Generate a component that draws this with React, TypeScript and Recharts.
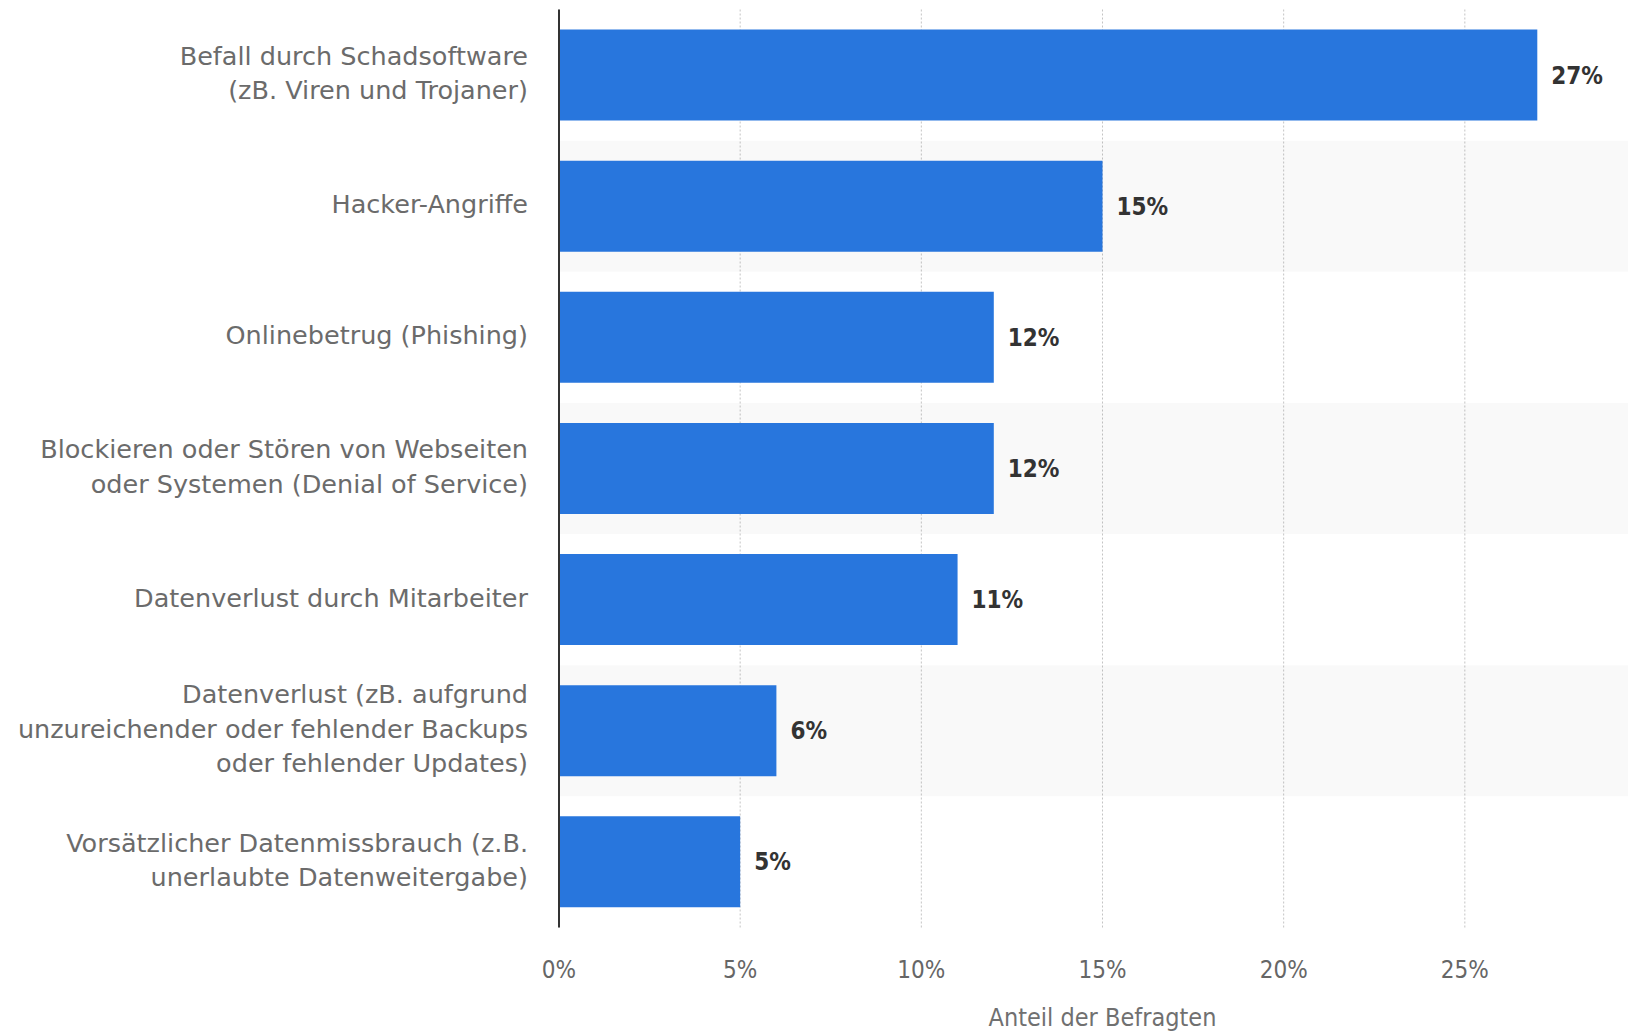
import React from "react";
import {
  BarChart,
  Bar,
  XAxis,
  YAxis,
  CartesianGrid,
  ReferenceArea,
  LabelList,
  Label,
} from "recharts";

const categories: string[] = [
  "Befall durch Schadsoftware\n(zB. Viren und Trojaner)",
  "Hacker-Angriffe",
  "Onlinebetrug (Phishing)",
  "Blockieren oder Stören von Webseiten\noder Systemen (Denial of Service)",
  "Datenverlust durch Mitarbeiter",
  "Datenverlust (zB. aufgrund\nunzureichender oder fehlender Backups\noder fehlender Updates)",
  "Vorsätzlicher Datenmissbrauch (z.B.\nunerlaubte Datenweitergabe)",
];
const values: number[] = [27, 15, 12, 12, 11, 6, 5];
const xTicks: number[] = [0, 5, 10, 15, 20, 25];
const shadedCategories: string[] = [categories[1], categories[3], categories[5]];
const axisTitle = "Anteil der Befragten";

const data = categories.map((name, i) => ({ name, value: values[i] }));

const FONT = "'DejaVu Sans', sans-serif";
const COND = "'DejaVu Sans Condensed', 'DejaVu Sans', sans-serif";

const CategoryTick = (props: any) => {
  const { x, y, payload } = props;
  const lines: string[] = String(payload.value).split("\n");
  const lh = 34.3;
  const start = y - 2 - ((lines.length - 1) * lh) / 2;
  return (
    <text
      x={x - 31}
      y={start}
      textAnchor="end"
      fill="#6b6b6b"
      fontFamily={FONT}
      fontSize={25.5}
    >
      {lines.map((l, i) => (
        <tspan key={i} x={x - 31} y={start + i * lh} dominantBaseline="central">
          {l}
        </tspan>
      ))}
    </text>
  );
};

const PercentTick = (props: any) => {
  const { x, y, payload } = props;
  return (
    <text
      x={x}
      y={y + 42}
      textAnchor="middle"
      dominantBaseline="central"
      fill="#666666"
      fontFamily={COND}
      fontSize={24}
    >
      {`${payload.value}%`}
    </text>
  );
};

const TitleLabel = (props: any) => {
  const vb = props.viewBox || {};
  const cx = vb.x + vb.width / 2;
  return (
    <text
      x={cx}
      y={1017}
      textAnchor="middle"
      dominantBaseline="central"
      fill="#707070"
      fontFamily={COND}
      fontSize={25}
    >
      {axisTitle}
    </text>
  );
};

export default function App() {
  return (
    <div
      style={{
        position: "absolute",
        left: 0,
        top: 0,
        width: 1628,
        height: 1032,
        overflow: "hidden",
        background: "#ffffff",
      }}
    >
      <BarChart
        width={1646}
        height={1032}
        data={data}
        layout="vertical"
        margin={{ top: 9.5, right: 0, bottom: 0, left: 0 }}
        barSize={91}
      >
        <CartesianGrid
          horizontal={false}
          vertical={true}
          stroke="#c4c4c4"
          strokeDasharray="2 2"
        />
        {shadedCategories.map((c) => (
          <ReferenceArea
            key={c}
            y1={c}
            y2={c}
            fill="#000000"
            fillOpacity={0.024}
            stroke="none"
            ifOverflow="extendDomain"
          />
        ))}
        <XAxis
          type="number"
          dataKey="value"
          domain={[0, 30]}
          ticks={xTicks}
          axisLine={false}
          tickLine={false}
          tickSize={0}
          tickMargin={0}
          height={104.5}
          tick={<PercentTick />}
          interval={0}
        >
          <Label content={<TitleLabel />} />
        </XAxis>
        <YAxis
          type="category"
          dataKey="name"
          width={559}
          axisLine={{ stroke: "#333333", strokeWidth: 2 }}
          tickLine={false}
          tickSize={0}
          tickMargin={0}
          tick={<CategoryTick />}
          interval={0}
        />
        <Bar dataKey="value" fill="#2876dd" isAnimationActive={false}>
          <LabelList
            dataKey="value"
            position="right"
            offset={14}
            formatter={(v: any) => `${v}%`}
            fill="#333333"
            fontFamily={COND}
            fontWeight="bold"
            fontSize={24}
          />
        </Bar>
      </BarChart>
    </div>
  );
}
